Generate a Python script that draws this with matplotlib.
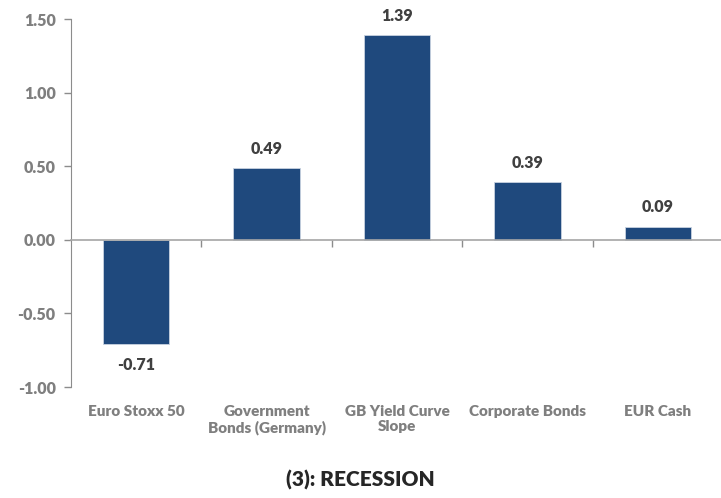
import matplotlib
matplotlib.use("Agg")
import matplotlib.pyplot as plt
import numpy as np

categories = ["Euro Stoxx 50", "Government\nBonds (Germany)", "GB Yield Curve\nSlope",
              "Corporate Bonds", "EUR Cash"]
values = [-0.71, 0.49, 1.39, 0.39, 0.09]
yticks = [-1.00, -0.50, 0.00, 0.50, 1.00, 1.50]
title = "(3): RECESSION"

plt.rcParams['font.family'] = ['Lato', 'DejaVu Sans']

fig = plt.figure(figsize=(7.21, 4.98), dpi=100)
ax = fig.add_axes([71/721, 1 - 387/498, 652/721, (387 - 19)/498])

x = np.arange(1, len(values) + 1)
ax.bar(x, values, width=0.51, color="#1F497D", edgecolor="#c8d2e0", linewidth=0.6, zorder=2)

ax.set_xlim(0.5, 5.5)
ax.set_ylim(-1.0, 1.5)
ax.set_yticks(yticks)
ax.set_yticklabels([f"{v:.2f}" for v in yticks], fontsize=11.5, fontweight='heavy', color="#7f7f7f")
ax.tick_params(axis='y', length=5, color="#8c8c8c", width=1, pad=6)

for s in ['top', 'right']:
    ax.spines[s].set_visible(False)
ax.spines['left'].set_color("#8c8c8c")
ax.spines['bottom'].set_position(('data', 0))
ax.spines['bottom'].set_color("#a6a6a6")
ax.spines['bottom'].set_linewidth(1.2)
ax.set_xticks([1.5, 2.5, 3.5, 4.5])
ax.set_xticklabels([])
ax.tick_params(axis='x', length=5, color="#8c8c8c", width=1, direction='out')

trans = ax.get_xaxis_transform()
for xi, c in zip(x, categories):
    ax.text(xi, -0.048, c, transform=trans, ha='center', va='top', fontsize=11,
            fontweight='heavy', color="#7f7f7f", linespacing=1.2)

for xi, v in zip(x, values):
    if v >= 0:
        ax.annotate(f"{v:.2f}", (xi, v), xytext=(0, 8), textcoords='offset points',
                    ha='center', va='bottom', fontsize=11.5, fontweight='heavy', color="#404040")
    else:
        ax.annotate(f"{v:.2f}", (xi, v), xytext=(0, -9), textcoords='offset points',
                    ha='center', va='top', fontsize=11.5, fontweight='heavy', color="#404040")

fig.text(0.5, 1 - 480/498, title, ha='center', va='center', fontsize=15,
         fontweight='heavy', color="#262626")

fig.savefig("out.png", dpi=100)
